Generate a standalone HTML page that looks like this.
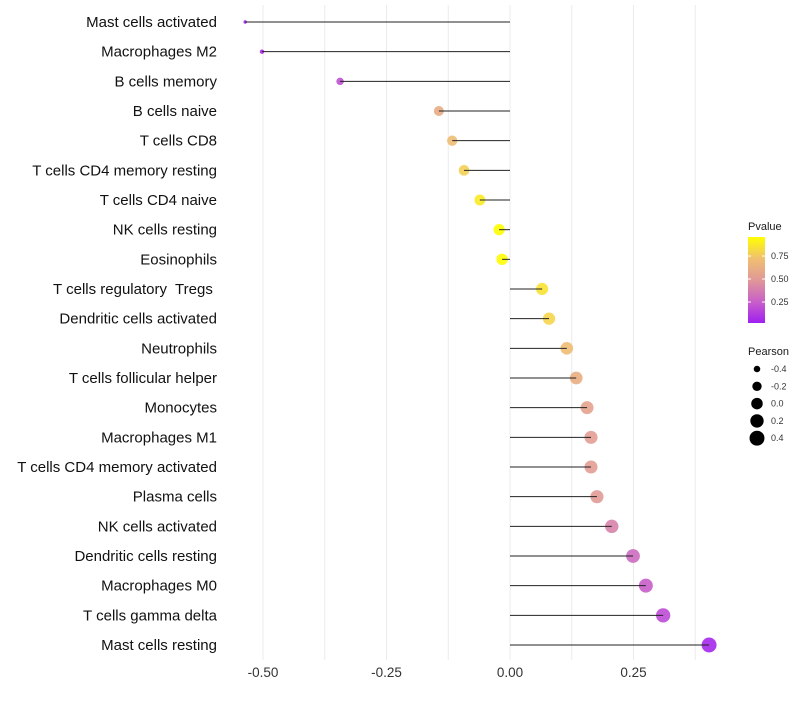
<!DOCTYPE html>
<html><head><meta charset="utf-8"><style>
body{margin:0;background:#fff;font-family:"Liberation Sans",sans-serif}
svg text{font-family:"Liberation Sans",sans-serif}
</style></head><body>
<svg id="chart" width="800" height="700"></svg>
<script>
const categories=["Mast cells activated","Macrophages M2","B cells memory","B cells naive","T cells CD8","T cells CD4 memory resting","T cells CD4 naive","NK cells resting","Eosinophils","T cells regulatory  Tregs ","Dendritic cells activated","Neutrophils","T cells follicular helper","Monocytes","Macrophages M1","T cells CD4 memory activated","Plasma cells","NK cells activated","Dendritic cells resting","Macrophages M0","T cells gamma delta","Mast cells resting"];
const pearson=[-0.536,-0.502,-0.344,-0.144,-0.117,-0.093,-0.061,-0.022,-0.016,0.065,0.079,0.115,0.134,0.156,0.164,0.164,0.176,0.206,0.249,0.275,0.310,0.403];
const pvalues=[0.03,0.05,0.2,0.6,0.7,0.78,0.88,0.95,0.95,0.85,0.8,0.7,0.62,0.55,0.52,0.52,0.5,0.4,0.3,0.25,0.18,0.05];
const xTicks=[-0.5,-0.25,0,0.25];
const xTickLabels=["-0.50","-0.25","0.00","0.25"];
const colorTicks=[0.25,0.5,0.75];
const sizeLegend=[-0.4,-0.2,0,0.2,0.4];

const NS="http://www.w3.org/2000/svg";
const svg=document.getElementById('chart');
function mk(t,a,p){const e=document.createElementNS(NS,t);for(const k in a)e.setAttribute(k,a[k]);(p||svg).appendChild(e);return e;}
const x=v=>510+v*494;
const y=i=>22+i*(623/21);
const pMin=0.022,pMax=0.957;
const stops=[[160,32,240],[201,96,200],[224,152,152],[240,192,112],[255,255,0]];
function col(p){let t=(p-pMin)/(pMax-pMin);t=Math.max(0,Math.min(1,t))*4;const i=Math.min(3,Math.floor(t)),f=t-i;const a=stops[i],b=stops[i+1];return `rgb(${a.map((c,k)=>Math.round(c+(b[k]-c)*f)).join(',')})`;}
const sMin=Math.min(...pearson),sMax=Math.max(...pearson);
const rad=v=>Math.sqrt(3+(v-sMin)/(sMax-sMin)*53);

for(let v=-0.5;v<=0.38;v+=0.125){const g=mk('line',{x1:x(v),x2:x(v),y1:5,y2:660,stroke:'#ebebeb','stroke-width':1});
}
xTicks.forEach((v,i)=>{const t=mk('text',{x:x(v),y:677,'text-anchor':'middle','font-size':13.5,fill:'#333'});t.textContent=xTickLabels[i];
});

categories.forEach((c,i)=>{
 const t=mk('text',{x:217,y:y(i)+5,'text-anchor':'end','font-size':15,fill:'#111'});t.textContent=c;
 t.style.whiteSpace='pre';
 
 const p=mk('circle',{cx:x(pearson[i]),cy:y(i),r:rad(pearson[i]),fill:col(pvalues[i]),'fill-opacity':0.9});
 
 const l=mk('line',{x1:x(0),x2:x(pearson[i]),y1:y(i),y2:y(i),stroke:'#222','stroke-width':1});
 
});

const lt=mk('text',{x:748,y:230,'font-size':11,fill:'#1a1a1a'});lt.textContent='Pvalue';

const defs=mk('defs',{});const lg=mk('linearGradient',{id:'cg',x1:0,y1:1,x2:0,y2:0},defs);
stops.forEach((s,i)=>mk('stop',{offset:i/4,'stop-color':`rgb(${s.join(',')})`},lg));
const bar=mk('rect',{x:748,y:237,width:17,height:86,fill:'url(#cg)'});

const cy=v=>323-(v-pMin)/(pMax-pMin)*86;
colorTicks.forEach(v=>{mk('line',{x1:748,x2:751,y1:cy(v),y2:cy(v),stroke:'#fff'});mk('line',{x1:762,x2:765,y1:cy(v),y2:cy(v),stroke:'#fff'});
 const t=mk('text',{x:771,y:cy(v)+3,'font-size':9,fill:'#333'});t.textContent=v.toFixed(2);
 });

const st=mk('text',{x:748,y:355,'font-size':11,fill:'#1a1a1a'});st.textContent='Pearson';

sizeLegend.forEach((v,i)=>{const yy=369+i*17.3;
 const c=mk('circle',{cx:757,cy:yy,r:rad(v),fill:'#000'});
 const t=mk('text',{x:771,y:yy+3,'font-size':9,fill:'#333'});t.textContent=v.toFixed(1);
 });
</script>
</body></html>
